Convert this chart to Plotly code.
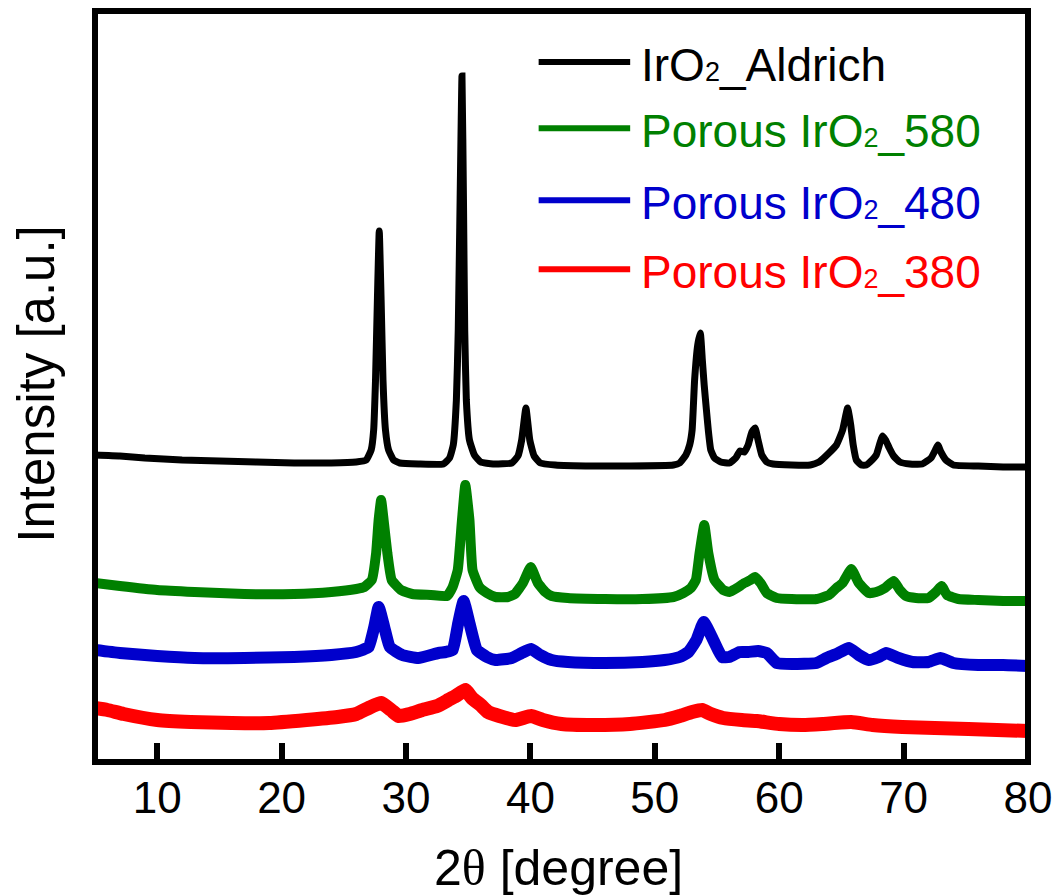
import plotly.graph_objects as go

# ---------------- data (intensity in arbitrary units) ----------------
x_aldrich = [5.0, 7.0, 9.0, 12.0, 15.0, 18.0, 21.0, 24.0, 26.0, 26.8, 27.2, 27.4, 27.55, 27.7, 27.85,
             28.0, 28.15, 28.35, 28.6, 29.0, 29.5, 31.0, 33.0, 33.5, 33.8, 34.05, 34.2, 34.35, 34.5,
             34.62, 34.72, 34.85, 35.1, 35.5, 36.0, 37.0, 38.5, 39.0, 39.3, 39.64, 39.95, 40.3, 40.8,
             42.0, 45.0, 48.0, 51.5, 52.0, 52.5, 52.8, 53.0, 53.2, 53.45, 53.66, 53.82, 53.97, 54.15,
             54.3, 54.5, 54.8, 55.3, 56.0, 56.5, 56.85, 57.2, 57.5, 57.8, 58.06, 58.3, 58.6, 59.0,
             59.5, 61.0, 62.5, 63.2, 64.0, 64.6, 65.1, 65.5, 65.75, 65.95, 66.2, 66.6, 67.0, 67.3,
             67.8, 68.1, 68.3, 68.55, 68.85, 69.2, 69.7, 70.5, 71.5, 72.2, 72.55, 72.75, 73.0, 73.4,
             74.0, 76.0, 78.0, 80.0]
y_aldrich = [307, 306, 304, 302, 301, 300, 299, 299, 300, 302, 312, 332, 382, 462, 531,
             462, 382, 332, 312, 302, 299, 298, 298, 304, 317, 362, 432, 562, 686,
             562, 432, 362, 322, 307, 300, 298, 299, 306, 322, 354, 322, 306, 299,
             297, 296, 296, 297, 299, 307, 317, 332, 382, 417, 429, 402, 377, 352,
             332, 312, 304, 300, 299, 304, 311, 310, 317, 330, 334, 322, 307, 300,
             298, 297, 297, 300, 309, 317, 332, 354, 337, 317, 302, 297, 297, 300,
             307, 319, 326, 322, 314, 306, 300, 298, 298, 304, 312, 317, 310, 302,
             297, 296, 295, 295]

x_580 = [5.0, 7.0, 10.0, 13.0, 17.0, 21.0, 24.0, 26.0, 26.65, 27.25, 27.6, 27.8, 28.0, 28.2, 28.5,
         28.85, 29.6, 30.5, 32.0, 33.3, 33.75, 34.16, 34.5, 34.77, 35.1, 35.35, 35.9, 36.5, 37.2,
         38.2, 38.75, 39.4, 40.03, 40.6, 41.2, 41.7, 43.0, 46.0, 49.0, 51.5, 52.3, 52.9, 53.3,
         53.6, 53.98, 54.3, 54.8, 55.5, 56.0, 56.6, 57.2, 57.7, 58.05, 58.5, 59.0, 59.8, 61.0,
         63.0, 64.0, 64.6, 65.1, 65.8, 66.4, 67.2, 67.8, 68.5, 69.2, 69.7, 70.2, 71.0, 72.0,
         72.6, 73.05, 73.5, 74.4, 76.0, 78.0, 80.0]
y_580 = [179, 176, 172, 170, 168, 168, 170, 173, 175, 182, 209, 242, 262, 242, 209,
         182, 172, 168, 167, 166, 175, 192, 242, 277, 242, 192, 175, 169, 165,
         165, 168, 179, 195, 179, 170, 166, 164, 163, 163, 165, 169, 174, 182,
         209, 237, 209, 182, 172, 170, 174, 179, 182, 185, 179, 169, 164, 163,
         163, 167, 174, 179, 193, 179, 169, 170, 174, 181, 172, 166, 164, 164,
         170, 176, 167, 163, 162, 161, 161]

x_480 = [5.0, 7.0, 10.0, 13.0, 17.0, 21.0, 24.0, 26.0, 26.5, 27.0, 27.45, 27.8, 28.25, 28.7, 29.7,
         31.0, 32.6, 33.2, 33.75, 34.2, 34.63, 35.1, 35.7, 36.5, 37.2, 38.5, 39.3, 40.06, 40.8,
         41.7, 43.0, 46.0, 49.0, 50.8, 52.0, 52.7, 53.35, 53.93, 54.7, 55.4, 56.0, 56.8, 57.5,
         58.3, 59.0, 59.8, 61.0, 63.0, 63.8, 64.6, 65.6, 66.4, 67.2, 68.0, 68.6, 69.6, 70.7,
         72.0, 72.95, 74.0, 76.0, 78.0, 80.0]
y_480 = [112, 109, 106, 104, 104, 105, 107, 110, 112, 115, 135, 155, 135, 115, 107,
         104, 109, 110, 112, 139, 161, 139, 112, 105, 102, 104, 109, 113, 107,
         102, 100, 99, 100, 102, 105, 110, 122, 140, 122, 105, 105, 110, 110,
         111, 109, 99, 98, 99, 104, 108, 114, 107, 102, 105, 109, 104, 100,
         100, 104, 99, 97, 97, 96]

x_380 = [5.0, 6.0, 7.3, 10.0, 12.7, 16.0, 19.0, 22.0, 24.5, 26.0, 27.0, 28.0, 28.8, 29.4, 30.3,
         31.3, 32.5, 33.4, 34.0, 34.77, 35.3, 36.0, 36.6, 37.5, 38.8, 40.06, 41.0, 42.5, 45.0,
         48.0, 50.8, 52.0, 53.0, 53.8, 54.5, 55.5, 57.0, 58.2, 60.0, 61.9, 63.5, 65.8, 67.5,
         69.9, 72.5, 75.2, 77.5, 80.0]
y_380 = [54, 52, 48, 42, 40, 39, 39, 42, 45, 48, 54, 59, 52, 46, 48,
         52, 56, 62, 66, 72, 64, 57, 50, 46, 42, 46, 42, 38, 37,
         38, 42, 46, 50, 52, 48, 44, 42, 41, 38, 37, 38, 40, 37,
         35, 34, 33, 32, 31]

x_ticks = [10, 20, 30, 40, 50, 60, 70, 80]

series_names = ["IrO2_Aldrich", "Porous IrO2_580", "Porous IrO2_480", "Porous IrO2_380"]
legend_labels = ['IrO<span style="font-size:27px">2</span>_Aldrich',
                 'Porous IrO<span style="font-size:27px">2</span>_580',
                 'Porous IrO<span style="font-size:27px">2</span>_480',
                 'Porous IrO<span style="font-size:27px">2</span>_380']
colors = ["#000000", "#008000", "#0000CC", "#FF0000"]
widths = [7, 10, 12, 14]

xs = [x_aldrich, x_580, x_480, x_380]
ys = [y_aldrich, y_580, y_480, y_380]

FONT = "Liberation Sans, Arial, sans-serif"

fig = go.Figure()
for name, x, y, c, w in zip(series_names, xs, ys, colors, widths):
    fig.add_trace(go.Scatter(x=x, y=y, mode="lines", name=name,
                             line=dict(color=c, width=w, shape="spline", smoothing=0.4),
                             showlegend=False))

# plot frame
fig.add_shape(type="rect", xref="paper", yref="paper", x0=0, x1=1, y0=0, y1=1,
              line=dict(color="black", width=6), layer="above")

# custom legend (long keys, coloured text)
leg_y = [0.932, 0.844, 0.748, 0.656]
for lab, c, yy in zip(legend_labels, colors, leg_y):
    fig.add_shape(type="line", xref="paper", yref="paper", x0=0.4755, x1=0.5736, y0=yy, y1=yy,
                  line=dict(color=c, width=6))
    fig.add_annotation(xref="paper", yref="paper", x=0.583, y=yy - 0.004, xanchor="left", yanchor="middle",
                       text=lab, showarrow=False, font=dict(family=FONT, size=46, color=c))

# axis titles
fig.add_annotation(xref="paper", yref="paper", x=-0.063, y=0.504, xanchor="center", yanchor="middle",
                   text="Intensity [a.u.]", textangle=-90, showarrow=False,
                   font=dict(family=FONT, size=51, color="black"))
fig.add_annotation(xref="paper", yref="paper", x=0.497, y=-0.141, xanchor="center", yanchor="middle",
                   text='2<span style="font-family:Liberation Serif">θ</span> [degree]', showarrow=False,
                   font=dict(family=FONT, size=50, color="black"))

fig.update_layout(
    width=1063, height=895,
    margin=dict(l=95, r=30, t=11, b=133, pad=0),
    paper_bgcolor="white", plot_bgcolor="white",
    showlegend=False,
    font=dict(family=FONT, color="black"),
)
fig.update_xaxes(range=[5, 80], tickvals=x_ticks, ticktext=[str(t) for t in x_ticks],
                 ticks="inside", ticklen=19, tickwidth=6, tickcolor="black",
                 ticklabelstandoff=6,
                 showline=False, showgrid=False, zeroline=False,
                 tickfont=dict(family=FONT, size=44, color="black"))
fig.update_yaxes(range=[0, 751], showticklabels=False, ticks="",
                 showline=False, showgrid=False, zeroline=False)

fig.write_html("out.html")
